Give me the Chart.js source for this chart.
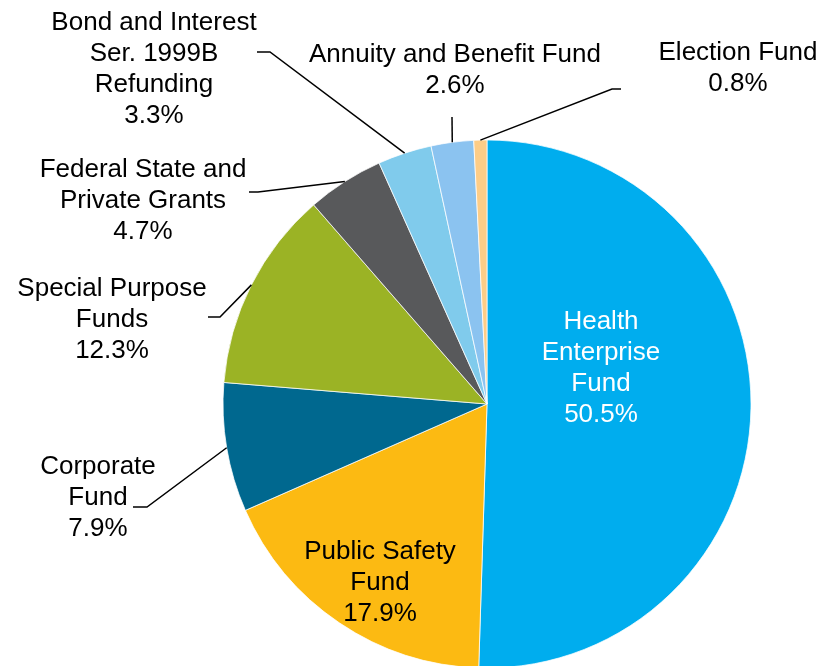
<!DOCTYPE html>
<html>
<head>
<meta charset="utf-8">
<script src="https://cdn.jsdelivr.net/npm/chart.js@4.4.1/dist/chart.umd.min.js"></script>
<style>
  html, body { margin: 0; padding: 0; background: #fff; overflow: hidden; }
  #wrap { width: 821px; height: 666px; overflow: hidden; }
  canvas { display: block; }
</style>
</head>
<body>
<div id="wrap"><canvas id="pie" width="821" height="808"></canvas></div>
<script>
// fund names (line-broken as shown) and their share of the total, in %
var categories = [
    ['Health', 'Enterprise', 'Fund'],
    ['Public Safety', 'Fund'],
    ['Corporate', 'Fund'],
    ['Special Purpose', 'Funds'],
    ['Federal State and', 'Private Grants'],
    ['Bond and Interest', 'Ser. 1999B', 'Refunding'],
    ['Annuity and Benefit Fund'],
    ['Election Fund']
];
var shares = [50.5, 17.9, 7.9, 12.3, 4.7, 3.3, 2.6, 0.8];
var colors = ['#00adee', '#fcba12', '#00688f', '#9bb325', '#58595b', '#80cbec', '#8bc3f0', '#fdcd87'];

// where each label sits, and the bend of its leader line
var labelLayout = [
    { x: 601, y: 322, color: '#ffffff' },
    { x: 380, y: 552, color: '#000000' },
    { x: 98,  y: 467, elbow: [147, 507], end: 133 },
    { x: 112, y: 289, elbow: [220, 317], end: 208 },
    { x: 143, y: 170, elbow: [258, 192], end: 249 },
    { x: 154, y: 23,  elbow: [270, 52],  end: 257 },
    { x: 455, y: 55,  elbow: [452, 117] },
    { x: 738, y: 53,  elbow: [612, 89],  end: 621 }
];

var pieLabels = {
    id: 'pieLabels',
    afterDraw: function(chart) {
        var ctx = chart.ctx;
        var meta = chart.getDatasetMeta(0);
        var lineH = 31;
        ctx.save();
        meta.data.forEach(function(arc, i) {
            var p = arc.getProps(['x', 'y', 'startAngle', 'endAngle', 'outerRadius'], true);
            var lay = labelLayout[i];
            if (lay.elbow) {
                var mid = (p.startAngle + p.endAngle) / 2;
                var ax = p.x + Math.cos(mid) * p.outerRadius;
                var ay = p.y + Math.sin(mid) * p.outerRadius;
                ctx.strokeStyle = '#000';
                ctx.lineWidth = 1.5;
                ctx.beginPath();
                ctx.moveTo(ax, ay);
                ctx.lineTo(lay.elbow[0], lay.elbow[1]);
                if (lay.end !== undefined) {
                    ctx.lineTo(lay.end, lay.elbow[1]);
                }
                ctx.stroke();
            }
            var lines = categories[i].concat([shares[i].toFixed(1) + '%']);
            ctx.fillStyle = lay.color || '#000';
            ctx.font = '26px "Liberation Sans", Arial, sans-serif';
            ctx.textAlign = 'center';
            ctx.textBaseline = 'middle';
            lines.forEach(function(t, k) {
                ctx.fillText(t, lay.x, lay.y + k * lineH);
            });
        });
        ctx.restore();
    }
};

new Chart(document.getElementById('pie'), {
    type: 'pie',
    data: {
        labels: categories,
        datasets: [{
            data: shares,
            backgroundColor: colors,
            borderColor: '#ffffff',
            borderWidth: 0.75,
            hoverOffset: 0
        }]
    },
    options: {
        responsive: false,
        animation: false,
        devicePixelRatio: 1,
        radius: 264,
        layout: { padding: { left: 223, right: 70, top: 140, bottom: 140 } },
        plugins: {
            legend: { display: false },
            tooltip: { enabled: false }
        }
    },
    plugins: [pieLabels]
});
</script>
</body>
</html>
